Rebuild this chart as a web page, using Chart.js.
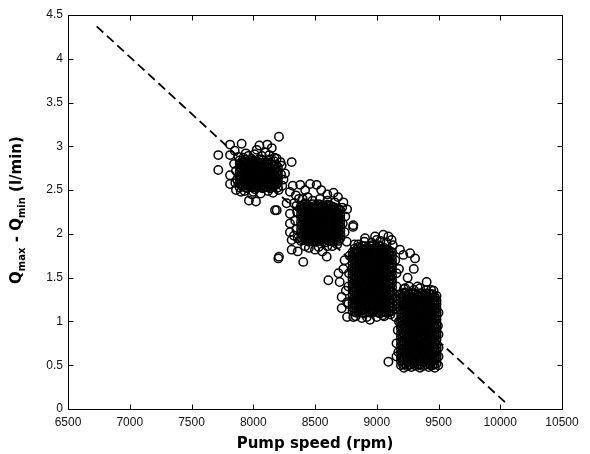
<!DOCTYPE html>
<html><head><meta charset="utf-8">
<script src="https://cdn.jsdelivr.net/npm/chart.js@4.4.1/dist/chart.umd.min.js"></script>
<style>html,body{margin:0;padding:0;background:#fff;}#wrap{width:590px;height:454px;}</style>
</head><body><div id="wrap"><canvas id="c" width="590" height="454"></canvas></div>
<script>
// ---- tick values / labels ----
const xTickValues = [6500,7000,7500,8000,8500,9000,9500,10000,10500];
const xTickLabels = ['6500','7000','7500','8000','8500','9000','9500','10000','10500'];
const yTickValues = [0,0.5,1,1.5,2,2.5,3,3.5,4,4.5];
const yTickLabels = ['0','0.5','1','1.5','2','2.5','3','3.5','4','4.5'];
const xTitle = 'Pump speed (rpm)';

// ---- dashed fit line (pump speed, flow difference) ----
const fitSpeed = [6732, 10060];
const fitFlow = [4.37, 0.05];

// ---- cluster 1 (~8000 rpm): columns of points ----
const c1Speed = [7890,7921,7952,7983,8014,8045,8076,8107,8138,8169,8200];
const c1Flow = [
 [2.53,2.58,2.62,2.67,2.71,2.76,2.80,2.84],
 [2.55,2.60,2.64,2.69,2.73,2.78,2.82,2.87],
 [2.52,2.56,2.61,2.65,2.70,2.74,2.79,2.83],
 [2.54,2.59,2.63,2.68,2.72,2.77,2.81,2.86],
 [2.51,2.56,2.60,2.65,2.69,2.74,2.78,2.83],
 [2.54,2.58,2.63,2.67,2.72,2.76,2.81,2.85],
 [2.52,2.56,2.61,2.65,2.70,2.75,2.79,2.84],
 [2.54,2.59,2.63,2.68,2.72,2.77,2.82],
 [2.52,2.57,2.61,2.66,2.70,2.75,2.80,2.85],
 [2.55,2.59,2.64,2.68,2.73,2.78,2.83],
 [2.53,2.58,2.62,2.67,2.71,2.76]
];
const c1SpeedB = [7905,7936,7967,7998,8029,8060,8091,8122,8153,8184];
const c1FlowB = [
 [2.55,2.60,2.64,2.69,2.73,2.78,2.82],
 [2.53,2.58,2.62,2.67,2.71,2.76,2.80,2.85],
 [2.54,2.59,2.63,2.68,2.72,2.77,2.81],
 [2.53,2.57,2.62,2.66,2.71,2.75,2.80,2.84],
 [2.55,2.60,2.64,2.69,2.73,2.78,2.82],
 [2.53,2.58,2.63,2.67,2.72,2.76,2.81,2.85],
 [2.54,2.59,2.63,2.68,2.72,2.77,2.81],
 [2.53,2.57,2.62,2.66,2.71,2.75,2.80,2.84],
 [2.54,2.59,2.63,2.68,2.72,2.77],
 [2.56,2.60,2.65,2.70,2.74,2.79]
];
const c1Outliers = [[7717,2.90],[7717,2.73],[7812,3.02],[7906,3.03],[7812,2.90],[7812,2.67],[7812,2.57],[7845,2.80],
 [7850,2.95],[7870,2.62],[8022,2.37],[7965,2.38],[8114,3.02],[8208,3.11],[8028,2.96],[8190,2.86],[8311,2.82],
 [8257,2.69],[8297,2.48],[8235,2.55],[8100,2.93],[7940,2.92],[8160,2.47],[8060,2.46],[7860,2.50],[8245,2.62],
 [8150,2.98],[8208,1.74],[8176,2.27],[8230,2.78],[7990,2.45],[7900,2.48],[8050,3.01],
 [7880,2.88],[7960,2.89],[8010,2.91],[8070,2.89],[8130,2.90],[8172,2.87],[7930,2.49],[8000,2.48],[8120,2.49],
 [8205,2.50],[7860,2.72],[7855,2.58],[8225,2.68],[8220,2.82]];

// ---- cluster 2 (~8550 rpm) ----
const c2Speed = [8387,8419,8451,8483,8515,8547,8579,8611,8643,8675,8705];
const c2Flow = [
 [1.92,1.96,2.01,2.05,2.10,2.14,2.19,2.23,2.28,2.32],
 [1.94,1.98,2.03,2.07,2.12,2.16,2.21,2.25,2.30,2.35],
 [1.91,1.96,2.00,2.05,2.09,2.14,2.18,2.23,2.27,2.32],
 [1.93,1.98,2.02,2.07,2.11,2.16,2.20,2.25,2.29,2.34],
 [1.91,1.95,2.00,2.04,2.09,2.13,2.18,2.22,2.27,2.31],
 [1.93,1.97,2.02,2.06,2.11,2.15,2.20,2.24,2.29,2.33],
 [1.90,1.95,1.99,2.04,2.08,2.13,2.17,2.22,2.26,2.31],
 [1.92,1.97,2.01,2.06,2.10,2.15,2.19,2.24,2.28,2.33],
 [1.91,1.95,2.00,2.04,2.09,2.13,2.18,2.22,2.27,2.31],
 [1.93,1.97,2.02,2.06,2.11,2.15,2.20,2.24,2.29],
 [1.95,2.00,2.04,2.09,2.13,2.18,2.22,2.27]
];
const c2SpeedB = [8403,8435,8467,8499,8531,8563,8595,8627,8659,8690];
const c2FlowB = [
 [1.93,1.98,2.02,2.07,2.11,2.16,2.20,2.25,2.29,2.33],
 [1.92,1.96,2.01,2.05,2.10,2.14,2.19,2.23,2.28,2.32],
 [1.94,1.98,2.03,2.07,2.12,2.16,2.21,2.25,2.30],
 [1.92,1.96,2.01,2.05,2.10,2.14,2.19,2.23,2.28,2.32],
 [1.93,1.98,2.02,2.07,2.11,2.16,2.20,2.25,2.29,2.34],
 [1.91,1.96,2.00,2.05,2.09,2.14,2.18,2.23,2.27,2.32],
 [1.93,1.97,2.02,2.06,2.11,2.15,2.20,2.24,2.29,2.33],
 [1.92,1.96,2.01,2.05,2.10,2.14,2.19,2.23,2.28,2.32],
 [1.94,1.98,2.03,2.07,2.12,2.16,2.21,2.25,2.30],
 [1.92,1.97,2.01,2.06,2.10,2.15,2.19,2.24,2.28]
];
const c2Outliers = [[8190,2.27],[8297,2.23],[8297,2.12],[8297,2.02],[8311,1.93],[8330,2.35],[8345,2.44],[8320,2.55],
 [8380,2.56],[8420,2.50],[8460,2.57],[8513,2.56],[8550,2.50],[8600,2.45],[8650,2.47],[8686,2.42],[8203,1.72],
 [8405,1.68],[8311,1.82],[8595,1.74],[8608,1.47],[8500,1.82],[8450,1.84],[8560,1.80],[8640,1.86],[8360,1.80],
 [8808,2.08],[8757,1.91],[8745,2.20],[8760,2.28],[8740,2.02],[8730,2.36],[8270,2.35],[8350,2.05],[8355,2.25],[8360,1.95],
 [8400,2.40],[8440,2.42],[8480,2.38],[8540,2.40],[8600,2.38],[8660,2.36],[8720,2.30],[8350,2.32],[8340,2.15],
 [8330,1.98],[8370,2.40],[8420,1.86],[8530,1.85],[8600,1.86],[8680,1.88],[8725,2.12]];

// ---- cluster 3 (~9000 rpm) ----
const c3Speed = [8804,8836,8868,8900,8932,8964,8996,9028,9060,9092,9124];
const c3Flow = [
 [1.12,1.16,1.21,1.25,1.30,1.35,1.39,1.43,1.48,1.53,1.57,1.61,1.66,1.71,1.75,1.79],
 [1.10,1.14,1.19,1.24,1.28,1.32,1.37,1.42,1.46,1.50,1.55,1.60,1.64,1.68,1.73,1.78,1.82],
 [1.12,1.17,1.21,1.26,1.30,1.34,1.39,1.44,1.48,1.52,1.57,1.62,1.66,1.70,1.75,1.80,1.84],
 [1.09,1.14,1.19,1.23,1.28,1.33,1.37,1.41,1.46,1.51,1.55,1.59,1.64,1.69,1.73,1.77,1.82,1.86],
 [1.11,1.16,1.20,1.25,1.30,1.34,1.38,1.43,1.48,1.52,1.56,1.61,1.66,1.70,1.74,1.79,1.84],
 [1.10,1.14,1.18,1.23,1.28,1.32,1.36,1.41,1.46,1.50,1.54,1.59,1.64,1.68,1.72,1.77,1.82,1.87],
 [1.12,1.16,1.21,1.25,1.30,1.35,1.39,1.43,1.48,1.52,1.57,1.61,1.66,1.71,1.75,1.80,1.84],
 [1.09,1.14,1.18,1.23,1.27,1.32,1.37,1.41,1.46,1.50,1.55,1.59,1.64,1.68,1.73,1.78,1.82,1.86],
 [1.11,1.16,1.20,1.25,1.29,1.34,1.39,1.43,1.48,1.52,1.57,1.61,1.66,1.70,1.75,1.79,1.84],
 [1.10,1.14,1.19,1.23,1.28,1.32,1.37,1.41,1.46,1.51,1.55,1.59,1.64,1.68,1.73,1.77,1.82],
 [1.12,1.16,1.21,1.26,1.30,1.34,1.39,1.44,1.48,1.52,1.57,1.62,1.66,1.70,1.75,1.79]
];
const c3SpeedB = [8820,8852,8884,8916,8948,8980,9012,9044,9076,9108];
const c3FlowB = [
 [1.11,1.15,1.20,1.24,1.29,1.33,1.38,1.42,1.47,1.51,1.56,1.60,1.65,1.69,1.74,1.78,1.83],
 [1.12,1.17,1.21,1.26,1.30,1.35,1.39,1.44,1.48,1.53,1.57,1.62,1.66,1.71,1.75,1.80,1.85],
 [1.10,1.15,1.19,1.24,1.28,1.33,1.37,1.42,1.46,1.51,1.55,1.60,1.64,1.69,1.73,1.78,1.82],
 [1.12,1.16,1.21,1.25,1.30,1.34,1.39,1.43,1.48,1.52,1.57,1.61,1.66,1.70,1.75,1.79,1.84],
 [1.10,1.14,1.19,1.23,1.28,1.32,1.37,1.41,1.46,1.50,1.55,1.59,1.64,1.68,1.73,1.77,1.82,1.86],
 [1.12,1.16,1.21,1.25,1.30,1.34,1.39,1.43,1.48,1.52,1.57,1.61,1.66,1.70,1.75,1.79,1.84],
 [1.10,1.15,1.19,1.24,1.28,1.33,1.37,1.42,1.46,1.51,1.55,1.60,1.64,1.69,1.73,1.78,1.82,1.87],
 [1.11,1.16,1.20,1.25,1.29,1.34,1.38,1.43,1.47,1.52,1.56,1.61,1.65,1.70,1.74,1.79,1.83],
 [1.10,1.14,1.19,1.23,1.28,1.32,1.37,1.41,1.46,1.50,1.55,1.59,1.64,1.68,1.73,1.77,1.82],
 [1.12,1.16,1.21,1.25,1.30,1.34,1.39,1.43,1.48,1.52,1.57,1.61,1.66,1.70,1.75,1.80]
];
const c3Outliers = [[8810,2.10],[8905,1.95],[8986,1.97],[9053,1.99],[9094,1.97],[9120,1.93],[9188,1.82],[9215,1.76],
 [9270,1.78],[9310,1.72],[9300,1.60],[9404,1.45],[9250,1.50],[9330,1.40],[9230,1.38],[9180,1.60],[9160,1.40],
 [8716,1.28],[8716,1.15],[8700,1.45],[8730,1.60],[8740,1.70],[8690,1.55],[8750,1.35],[8760,1.22],[8760,1.05],
 [8945,1.02],[8810,1.05],[8880,1.04],[9000,1.05],[9050,1.07],[8850,1.88],[8960,1.90],[9030,1.92],
 [8820,1.88],[8900,1.91],[9000,1.93],[9080,1.90],[9130,1.87],[8830,1.06],[8920,1.05],[9060,1.06],[9110,1.08],
 [8770,1.40],[8775,1.55],[8780,1.75],[8770,1.20],[9150,1.70],[9160,1.55]];

// ---- cluster 4 (~9350 rpm) ----
const c4Speed = [9196,9228,9260,9292,9324,9356,9388,9420,9452,9484];
const c4Flow = [
 [0.50,0.55,0.59,0.64,0.68,0.73,0.77,0.82,0.86,0.91,0.95,1.00,1.04,1.09,1.13,1.18,1.22,1.27,1.31],
 [0.52,0.57,0.61,0.66,0.70,0.75,0.79,0.84,0.88,0.93,0.97,1.02,1.06,1.11,1.15,1.20,1.24,1.29,1.33],
 [0.50,0.54,0.59,0.63,0.68,0.72,0.77,0.81,0.86,0.91,0.95,0.99,1.04,1.08,1.13,1.18,1.22,1.26,1.31],
 [0.52,0.56,0.61,0.65,0.70,0.75,0.79,0.83,0.88,0.92,0.97,1.01,1.06,1.11,1.15,1.19,1.24,1.28,1.33],
 [0.49,0.54,0.58,0.63,0.68,0.72,0.76,0.81,0.86,0.90,0.94,0.99,1.04,1.08,1.12,1.17,1.22,1.26,1.30],
 [0.51,0.56,0.60,0.65,0.70,0.74,0.78,0.83,0.88,0.92,0.96,1.01,1.06,1.10,1.14,1.19,1.24,1.28,1.32],
 [0.50,0.54,0.59,0.63,0.67,0.72,0.77,0.81,0.85,0.90,0.95,0.99,1.03,1.08,1.13,1.17,1.21,1.26,1.30],
 [0.52,0.56,0.61,0.65,0.70,0.74,0.79,0.83,0.87,0.92,0.97,1.01,1.05,1.10,1.15,1.19,1.23,1.28,1.32],
 [0.50,0.55,0.59,0.63,0.68,0.73,0.77,0.81,0.86,0.90,0.95,1.00,1.04,1.08,1.13,1.17,1.22,1.27,1.31],
 [0.52,0.57,0.61,0.66,0.70,0.74,0.79,0.84,0.88,0.92,0.97,1.02,1.06,1.10,1.15,1.20,1.24,1.29]
];
const c4SpeedB = [9212,9244,9276,9308,9340,9372,9404,9436,9468];
const c4FlowB = [
 [0.51,0.56,0.60,0.65,0.69,0.74,0.78,0.83,0.87,0.92,0.96,1.01,1.05,1.10,1.14,1.19,1.23,1.28,1.32],
 [0.49,0.54,0.58,0.63,0.67,0.72,0.76,0.81,0.85,0.90,0.94,0.99,1.03,1.08,1.12,1.17,1.21,1.26,1.30],
 [0.51,0.55,0.60,0.64,0.69,0.73,0.78,0.82,0.87,0.91,0.96,1.00,1.05,1.09,1.14,1.18,1.23,1.27,1.32],
 [0.50,0.54,0.59,0.63,0.68,0.72,0.77,0.81,0.86,0.90,0.95,0.99,1.04,1.08,1.13,1.17,1.22,1.26,1.31],
 [0.51,0.56,0.60,0.65,0.69,0.74,0.78,0.83,0.87,0.92,0.96,1.01,1.05,1.10,1.14,1.19,1.23,1.28,1.32],
 [0.49,0.54,0.58,0.63,0.67,0.72,0.76,0.81,0.85,0.90,0.94,0.99,1.03,1.08,1.12,1.17,1.21,1.26,1.30],
 [0.51,0.55,0.60,0.64,0.69,0.73,0.78,0.82,0.87,0.91,0.96,1.00,1.05,1.09,1.14,1.18,1.23,1.27,1.32],
 [0.50,0.54,0.59,0.63,0.68,0.72,0.77,0.81,0.86,0.90,0.95,0.99,1.04,1.08,1.13,1.17,1.22,1.26,1.31],
 [0.51,0.56,0.60,0.65,0.69,0.74,0.78,0.83,0.87,0.92,0.96,1.01,1.05,1.10,1.14,1.19,1.23,1.28]
];
const c4Outliers = [[9094,0.54],[9150,1.05],[9170,0.90],[9160,0.75],[9498,0.50],[9470,0.47],[9420,0.48],[9350,0.47],
 [9280,0.48],[9220,0.47],[9160,0.60],[9400,1.36],[9460,1.35],[9470,1.28],[9500,0.70],[9495,0.95],
 [9220,1.37],[9260,1.40],[9300,1.36],[9350,1.38],[9440,1.36],[9175,0.65],[9180,1.00],[9175,1.20],
 [9500,0.60],[9500,0.85],[9500,1.10]];

// ---- build points ----
function fromColumns(speeds, flows){
  const pts = [];
  speeds.forEach((s,i)=>flows[i].forEach(f=>pts.push({x:s,y:f})));
  return pts;
}
function fromPairs(pairs){ return pairs.map(p=>({x:p[0],y:p[1]})); }
const scatterPoints = [].concat(
  fromColumns(c1Speed,c1Flow), fromColumns(c1SpeedB,c1FlowB), fromPairs(c1Outliers),
  fromColumns(c2Speed,c2Flow), fromColumns(c2SpeedB,c2FlowB), fromPairs(c2Outliers),
  fromColumns(c3Speed,c3Flow), fromColumns(c3SpeedB,c3FlowB), fromPairs(c3Outliers),
  fromColumns(c4Speed,c4Flow), fromColumns(c4SpeedB,c4FlowB), fromPairs(c4Outliers)
);
const fitPoints = fitSpeed.map((s,i)=>({x:s,y:fitFlow[i]}));

const frame = {
  id:'frame',
  afterDraw(chart){
    const {ctx, chartArea:a, scales} = chart;
    const xs = scales.x, ys = scales.y;
    const L = Math.round(a.left)+0.5, R = Math.round(a.right)+0.5, T = Math.round(a.top)+0.5, B = Math.round(a.bottom)+0.5;
    ctx.save();
    ctx.strokeStyle = '#000'; ctx.lineWidth = 1;
    ctx.beginPath();
    ctx.rect(L, T, R-L, B-T);
    const tl = 5;
    xTickValues.forEach(v=>{
      const px = Math.round(xs.getPixelForValue(v))+0.5;
      ctx.moveTo(px,B); ctx.lineTo(px,B-tl);
      ctx.moveTo(px,T); ctx.lineTo(px,T+tl);
    });
    yTickValues.forEach(v=>{
      const py = Math.round(ys.getPixelForValue(v))+0.5;
      ctx.moveTo(L,py); ctx.lineTo(L+tl,py);
      ctx.moveTo(R,py); ctx.lineTo(R-tl,py);
    });
    ctx.stroke();
    // x-axis title
    ctx.fillStyle = '#000';
    ctx.font = 'bold 15px "DejaVu Sans", sans-serif';
    ctx.textAlign = 'center'; ctx.textBaseline = 'alphabetic';
    ctx.fillText(xTitle, (a.left+a.right)/2, 448);
    // y-axis title with subscripts
    const big = 'bold 15px "DejaVu Sans", sans-serif';
    const small = 'bold 10px "DejaVu Sans", sans-serif';
    const parts = [['Q',big,0],['max',small,4],[' - Q',big,0],['min',small,4],[' (l/min)',big,0]];
    let w = 0;
    parts.forEach(p=>{ctx.font=p[1]; w += ctx.measureText(p[0]).width;});
    ctx.translate(21, 210);
    ctx.rotate(-Math.PI/2);
    ctx.textAlign = 'left';
    let x0 = -w/2;
    parts.forEach(p=>{ctx.font=p[1]; ctx.fillText(p[0], x0, p[2]); x0 += ctx.measureText(p[0]).width;});
    ctx.restore();
  }
};

new Chart(document.getElementById('c'), {
  type:'scatter',
  data:{datasets:[
    {data:fitPoints, showLine:true, borderColor:'#000', borderWidth:1.8, borderDash:[9,5], pointRadius:0, fill:false},
    {data:scatterPoints, pointStyle:'circle', pointRadius:4.2, borderWidth:1.5, borderColor:'#000', backgroundColor:'rgba(0,0,0,0)', pointBackgroundColor:'rgba(0,0,0,0)'}
  ]},
  options:{
    responsive:false, devicePixelRatio:1, animation:false,
    events:[],
    layout:{padding:{left:0,right:28,top:15,bottom:0}},
    plugins:{legend:{display:false}, tooltip:{enabled:false}},
    scales:{
      x:{type:'linear', min:6500, max:10500,
         afterBuildTicks:s=>{s.ticks = xTickValues.map(v=>({value:v}));},
         afterFit:s=>{s.height = 45;},
         grid:{display:false, drawTicks:false}, border:{display:false},
         ticks:{padding:6, color:'#111', font:{family:'"Liberation Sans", Arial, sans-serif', size:12},
                maxRotation:0, autoSkip:false,
                callback:(v)=>{const i = xTickValues.indexOf(v); return i>=0 ? xTickLabels[i] : '';}}},
      y:{type:'linear', min:0, max:4.5,
         afterBuildTicks:s=>{s.ticks = yTickValues.map(v=>({value:v}));},
         afterFit:s=>{s.width = 68;},
         grid:{display:false, drawTicks:false}, border:{display:false},
         ticks:{padding:5, color:'#111', font:{family:'"Liberation Sans", Arial, sans-serif', size:12},
                autoSkip:false,
                callback:(v)=>{const i = yTickValues.indexOf(v); return i>=0 ? yTickLabels[i] : '';}}}
    }
  },
  plugins:[frame]
});
</script>
</body></html>
